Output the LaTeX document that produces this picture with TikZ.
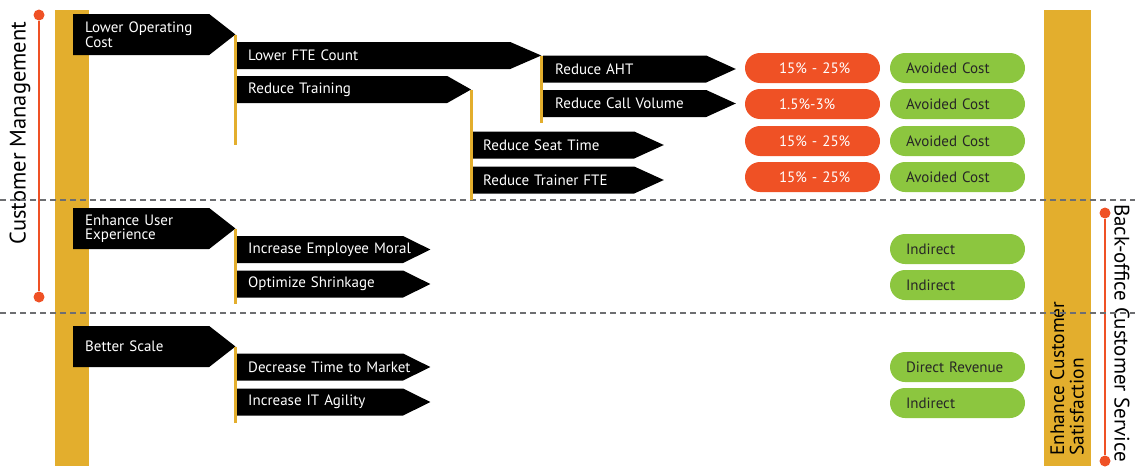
\documentclass[tikz,border=0pt]{standalone}
\usepackage{fontspec}
\setmainfont{PT Sans}
\usetikzlibrary{shapes.symbols}
\definecolor{bargold}{HTML}{E3AE2D}
\definecolor{flame}{HTML}{EF5125}
\definecolor{leaf}{HTML}{8CC63F}
\definecolor{rulegray}{HTML}{6D6E71}
\hyphenpenalty=10000
\exhyphenpenalty=10000
\begin{document}
\begin{tikzpicture}[x=1pt,y=-1pt,
        flag/.style 2 args={signal, signal to=east, signal pointer angle=#2, fill=black, text=white,
          anchor=west, inner xsep=12pt, inner ysep=0pt, text width=#1, align=left,
          font=\fontsize{15}{13.5}\selectfont},
        bigflag/.style={flag={112pt}{76}, minimum height=41pt},
        smallflag/.style 2 args={flag={#1}{#2}, minimum height=27pt},
        stem/.style={bargold, line width=3pt},
        pct/.style={fill=flame, text=white, rounded corners=15pt, minimum height=30pt,
          inner xsep=34pt, inner ysep=0pt, text width=67pt, align=left, font=\fontsize{15}{14}\selectfont},
        gain/.style={fill=leaf, text=black!85, rounded corners=15pt, minimum height=30pt,
          inner xsep=16pt, inner ysep=0pt, text width=103pt, align=left, font=\fontsize{15}{14}\selectfont},
        spine/.style={flame, line width=2.5pt},
        dot/.style={circle, fill=flame, inner sep=0pt, minimum size=11pt},
        lane/.style={rulegray, line width=2pt, dash pattern=on 6pt off 4pt}]
        \useasboundingbox (0,0) rectangle (1135,466);

        \fill[bargold] (55,10) rectangle (89,466);
        \fill[bargold] (1044,10) rectangle (1091,466);

        \node[rotate=90, font=\fontsize{22.5}{22}\selectfont] (custmgmt) at (20,133) {Customer Management};
        \node[rotate=-90, font=\fontsize{21}{21}\selectfont] (backoffice) at (1122,333) {Back-office Customer Service};
        \node[rotate=90, anchor=north west, inner sep=0pt, align=left, font=\fontsize{19.5}{19.5}\selectfont] (satisfy) at (1050,456) {Enhance Customer\\Satisfaction};

        \node[dot] (cmtop) at (39,15) {};
        \node[dot] (cmbot) at (39,297) {};
        \node[dot] (botop) at (1105,213) {};
        \node[dot] (bobot) at (1105,461) {};
        \draw[spine] (cmtop) -- (cmbot);
        \draw[spine] (botop) -- (bobot);

        \draw[lane] (0,200) -- (1135,200);
        \draw[lane] (0,313) -- (1135,313);

        \node[bigflag] (loc) at (73,34.5) {Lower Operating\\Cost};
        \node[bigflag] (eue) at (73,228.5) {Enhance User\\Experience};
        \node[bigflag] (bsc) at (73,346.5) {Better Scale};

        \node[smallflag={250pt}{47}] (lfc) at (236,55.5) {Lower FTE Count};
        \node[smallflag={187pt}{59}] (rtr) at (236,89.5) {Reduce Training};
        \node[smallflag={143pt}{53}] (iem) at (236,249.5) {Increase~Employee~Moral};
        \node[smallflag={143pt}{53}] (osh) at (236,284) {Optimize Shrinkage};
        \node[smallflag={143pt}{53}] (dtm) at (236,367) {Decrease~Time~to~Market};
        \node[smallflag={143pt}{53}] (iit) at (236,402) {Increase IT Agility};

        \node[smallflag={139pt}{49}] (rah) at (543,69) {Reduce AHT};
        \node[smallflag={139pt}{49}] (rcv) at (543,103.5) {Reduce Call Volume};
        \node[smallflag={139pt}{49}] (rst) at (471,145) {Reduce Seat Time};
        \node[smallflag={139pt}{49}] (rtf) at (471,180) {Reduce Trainer FTE};

        \coordinate (locfoot) at (236,145);
        \coordinate (lfcfoot) at (543,123);
        \coordinate (rtrfoot) at (471,200);
        \coordinate (euefoot) at (236,304);
        \coordinate (bscfoot) at (236,423);
        \draw[stem] (loc.east) -- (loc.east |- locfoot);
        \draw[stem] (lfc.east) -- (lfc.east |- lfcfoot);
        \draw[stem] (rtr.east) -- (rtr.east |- rtrfoot);
        \draw[stem] (eue.east) -- (eue.east |- euefoot);
        \draw[stem] (bsc.east) -- (bsc.east |- bscfoot);

        \node[pct] (ahtpct) at (812.5,68) {15\%~-~25\%};
        \node[pct] (callpct) at (812.5,104) {1.5\%-3\%};
        \node[pct] (seatpct) at (812.5,141) {15\%~-~25\%};
        \node[pct] (trainpct) at (812.5,177) {15\%~-~25\%};

        \node[gain] (ahtgain) at (957.5,68) {Avoided Cost};
        \node[gain] (callgain) at (957.5,104) {Avoided Cost};
        \node[gain] (seatgain) at (957.5,141) {Avoided Cost};
        \node[gain] (traingain) at (957.5,177) {Avoided Cost};
        \node[gain] (moralgain) at (957.5,249) {Indirect};
        \node[gain] (shrinkgain) at (957.5,285) {Indirect};
        \node[gain] (marketgain) at (957.5,367) {Direct~Revenue};
        \node[gain] (agilitygain) at (957.5,403) {Indirect};
      \end{tikzpicture}
\end{document}
